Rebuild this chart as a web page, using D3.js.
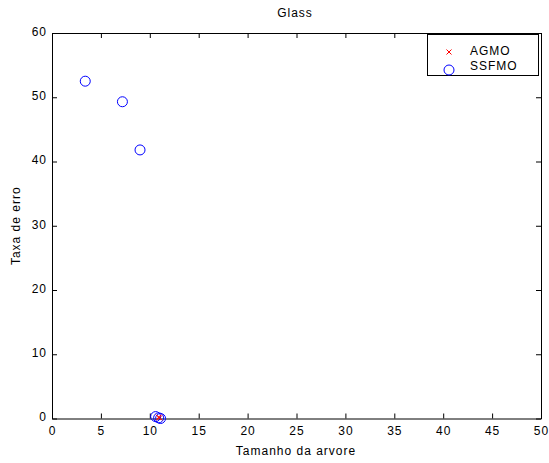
<!DOCTYPE html>
<html>
<head>
<meta charset="utf-8">
<script src="https://cdn.jsdelivr.net/npm/d3@7"></script>
<style>
  body { margin: 0; background: #fff; }
  text { font-family: "Liberation Sans", Arial, sans-serif; font-size: 12px; letter-spacing: 1px; fill: #000; }
</style>
</head>
<body>
<svg width="549" height="463"></svg>
<script>
const width = 549;
const height = 463;
const margin = { left: 52, right: 8, top: 33, bottom: 44.5 };

// AGMO points (tree size, error rate)
const agmoX = [10.9, 11.0];
const agmoY = [0.2, 0.1];
// SSFMO points
const ssfmoX = [3.4, 7.2, 9.0, 10.6, 10.9, 11.1];
const ssfmoY = [52.5, 49.3, 41.8, 0.3, 0.1, 0.0];

const xTicks = [0, 5, 10, 15, 20, 25, 30, 35, 40, 45, 50];
const yTicks = [0, 10, 20, 30, 40, 50, 60];

const svg = d3.select("svg");

const x = d3.scaleLinear().domain([0, 50]).range([margin.left, width - margin.right]);
const y = d3.scaleLinear().domain([0, 60]).range([height - margin.bottom, margin.top]);

// axes with inward ticks, box on
svg.append("g")
  .attr("transform", `translate(0,${height - margin.bottom})`)
  .call(d3.axisBottom(x).tickValues(xTicks).tickSizeInner(-5).tickSizeOuter(0).tickPadding(8));
svg.append("g")
  .attr("transform", `translate(0,${margin.top})`)
  .call(d3.axisTop(x).tickValues(xTicks).tickSizeInner(-5).tickSizeOuter(0).tickFormat(""));
svg.append("g")
  .attr("transform", `translate(${margin.left},0)`)
  .call(d3.axisLeft(y).tickValues(yTicks).tickSizeInner(-5).tickSizeOuter(0).tickPadding(5))
  .call(g => g.selectAll(".tick text").attr("dy", "0.2em"));
svg.append("g")
  .attr("transform", `translate(${width - margin.right},0)`)
  .call(d3.axisRight(y).tickValues(yTicks).tickSizeInner(-5).tickSizeOuter(0).tickFormat(""));

svg.selectAll(".tick text").attr("font-size", null).attr("font-family", null);
svg.selectAll(".domain, .tick line").attr("stroke", "#000");

// SSFMO circles
svg.append("g").selectAll("circle")
  .data(ssfmoX.map((d, i) => [d, ssfmoY[i]]))
  .join("circle")
  .attr("cx", d => x(d[0]))
  .attr("cy", d => y(d[1]))
  .attr("r", 5)
  .attr("fill", "none")
  .attr("stroke", "#0000ff")
  .attr("stroke-width", 1);

// AGMO crosses
svg.append("g").selectAll("path")
  .data(agmoX.map((d, i) => [d, agmoY[i]]))
  .join("path")
  .attr("transform", d => `translate(${x(d[0])},${y(d[1])})`)
  .attr("d", "M-2.5,-2.5L2.5,2.5M-2.5,2.5L2.5,-2.5")
  .attr("stroke", "#ff0000")
  .attr("stroke-width", 1);

// title and labels
svg.append("text").attr("x", 295).attr("y", 17)
  .attr("text-anchor", "middle").text("Glass");
svg.append("text").attr("x", 296).attr("y", 455)
  .attr("text-anchor", "middle").text("Tamanho da arvore");
svg.append("text").attr("transform", `translate(20,${(margin.top + height - margin.bottom) / 2}) rotate(-90)`)
  .attr("text-anchor", "middle").text("Taxa de erro");

// legend
const legend = svg.append("g");
legend.append("rect").attr("x", 427.5).attr("y", 34.5).attr("width", 111).attr("height", 41)
  .attr("fill", "#fff").attr("stroke", "#000");
legend.append("path").attr("transform", "translate(449,52)")
  .attr("d", "M-2.5,-2.5L2.5,2.5M-2.5,2.5L2.5,-2.5").attr("stroke", "#ff0000");
legend.append("circle").attr("cx", 449).attr("cy", 70).attr("r", 5)
  .attr("fill", "none").attr("stroke", "#0000ff");
legend.append("text").attr("x", 470).attr("y", 55).text("AGMO");
legend.append("text").attr("x", 470).attr("y", 70).text("SSFMO");
</script>
</body>
</html>
